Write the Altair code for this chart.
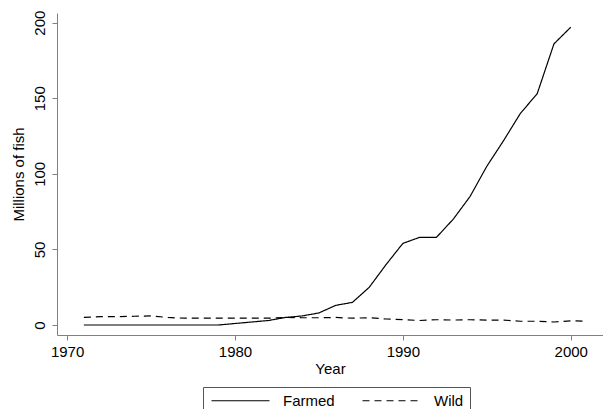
import altair as alt
import pandas as pd

farmed_years = list(range(1971, 2001))
farmed_vals = [0, 0, 0, 0, 0, 0, 0, 0, 0, 1, 2, 3, 5, 6, 8, 13, 15, 25, 40, 54,
               58, 58, 70, 85, 105, 122, 140, 153, 186, 197]
wild_years = list(range(1971, 2002))
wild_vals = [5, 5.5, 5.5, 5.8, 6, 5, 4.5, 4.5, 4.5, 4.5, 4.5, 4.5, 5, 4.8, 4.8, 5,
             4.5, 4.8, 4, 3.5, 3, 3.5, 3.3, 3.5, 3.3, 3.3, 2.5, 2.5, 2, 2.8, 2.5]

x_ticks = [1970, 1980, 1990, 2000]
y_ticks = [0, 50, 100, 150, 200]

df = pd.concat([
    pd.DataFrame({"Year": farmed_years, "value": farmed_vals, "series": "Farmed"}),
    pd.DataFrame({"Year": wild_years, "value": wild_vals, "series": "Wild"}),
])

FONT = "Liberation Sans"
AXC = "#808080"

chart = alt.Chart(df).mark_line(color="black", strokeWidth=1.2).encode(
    x=alt.X("Year:Q", scale=alt.Scale(domain=[1969.4, 2001.92], nice=False, zero=False),
            axis=alt.Axis(values=x_ticks, format="d", title="Year", grid=False,
                          labelFontSize=15, titleFontSize=15, titleFontWeight="normal",
                          labelColor="black", titleColor="black", domainColor=AXC,
                          tickColor=AXC, tickSize=5, labelPadding=4, titlePadding=2,
                          labelFont=FONT, titleFont=FONT)),
    y=alt.Y("value:Q", scale=alt.Scale(domain=[-6.6, 206.4], nice=False, zero=False),
            axis=alt.Axis(values=y_ticks, title="Millions of fish", grid=False,
                          labelAngle=270, labelAlign="center", labelBaseline="alphabetic",
                          labelFontSize=15, titleFontSize=15, titleFontWeight="normal",
                          labelColor="black", titleColor="black", domainColor=AXC,
                          tickColor=AXC, tickSize=5, labelPadding=8, titlePadding=6,
                          labelFont=FONT, titleFont=FONT)),
    strokeDash=alt.StrokeDash("series:N",
                              scale=alt.Scale(domain=["Farmed", "Wild"], range=[[1, 0], [7, 5]]),
                              legend=alt.Legend(title=None, orient="none", legendX=146, legendY=374,
                                                direction="horizontal", symbolType="M-1,0H10.6",
                                                symbolSize=100, symbolStrokeColor="black",
                                                symbolStrokeWidth=1.2, labelFontSize=15,
                                                labelFont=FONT, labelColor="black",
                                                labelOffset=59, columnPadding=25, padding=6,
                                                strokeColor="#555", fillColor="white")),
    detail="series:N",
).properties(
    width=546,
    height=322,
    autosize=alt.AutoSizeParams(type="none"),
    padding={"left": 49, "top": 5, "right": 0, "bottom": 74},
).configure_view(stroke=None)

chart.save("out.html", embed_options={"renderer": "svg", "actions": False})
